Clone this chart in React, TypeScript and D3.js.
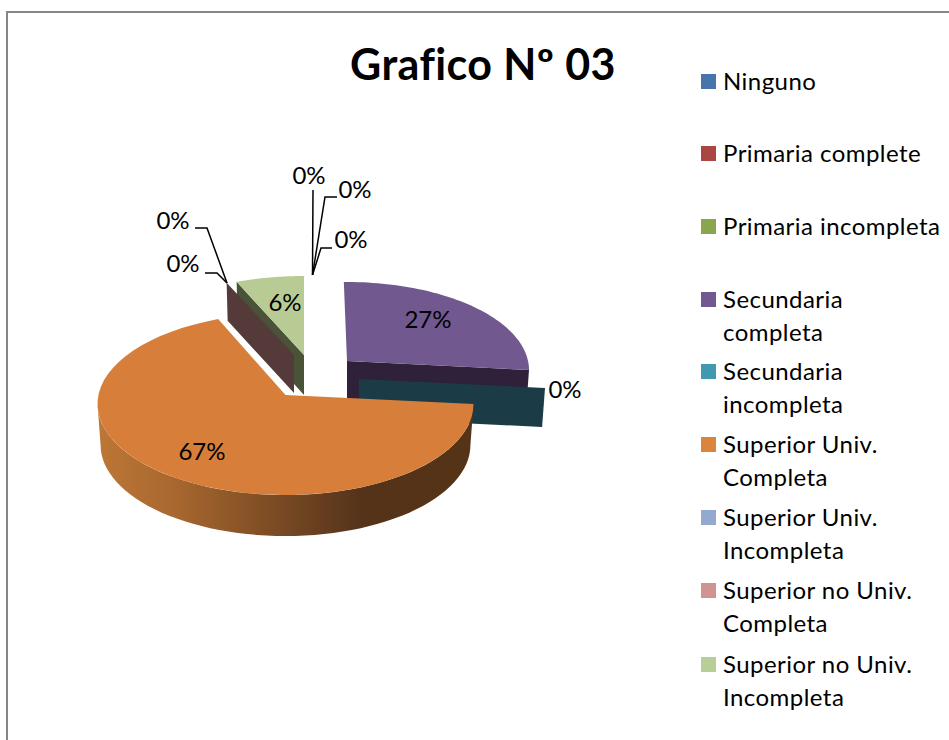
import React from "react";
import * as d3 from "d3";

const categories = ["Ninguno","Primaria complete","Primaria incompleta","Secundaria completa","Secundaria incompleta","Superior Univ. Completa","Superior Univ. Incompleta","Superior no Univ. Completa","Superior no Univ. Incompleta"];
const values = [0,0,0,27,0,67,0,0,6];
const legendLines = [["Ninguno"],["Primaria complete"],["Primaria incompleta"],["Secundaria","completa"],["Secundaria","incompleta"],["Superior Univ.","Completa"],["Superior Univ.","Incompleta"],["Superior no Univ.","Completa"],["Superior no Univ.","Incompleta"]];
const legendColors = ["#4674ab","#aa4643","#89a54e","#71588f","#4198af","#db843d","#93a9cf","#d19392","#b9cd96"];
const title = "Grafico Nº 03";

// layout (not data)
const legendSwatchY = [74,146,219,292,364,437,510,583,657];
const FONT = "Lato, Carlito, Calibri, sans-serif";
const labelPos: [number,number][] = [[309,184],[355,198],[351,248],[428,328],[565,398],[202,460],[183,272],[173,229],[285,311]];
const leaders: [number,number][][] = [
  [[313,190],[312.5,275]],
  [[337,197],[325,197],[312.5,275]],
  [[332,248],[321,248],[312.5,275]],
  [[205,273],[217,273],[227,283]],
  [[195,228],[207,228],[227,283]],
];
type Geo = {cx:number;cy:number;rx:number;ry:number;depth:number};
const geo: Record<string,Geo> = {
  "Secundaria completa": {cx:347,cy:370,rx:182,ry:88,depth:38},
  "Secundaria incompleta": {cx:359,cy:388,rx:186,ry:88,depth:39},
  "Superior Univ. Completa": {cx:285.5,cy:404,rx:188,ry:91,depth:41},
  "Superior no Univ. Completa": {cx:294,cy:364,rx:188,ry:87,depth:38},
  "Superior no Univ. Incompleta": {cx:304,cy:364,rx:188,ry:88,depth:40},
};

const APEX_LIFT = 9;
const PERSPECTIVE = 0.0004;
const toDeg = 180/Math.PI;
// perspective warp of pie angle to the drawn ellipse parameter
const warp = d3.scaleLinear().domain([0,97.2,338.4,360]).range([-1,90,339,360]);
const pt = (g:Geo,deg:number,dz=0):[number,number] => {
  const a = warp(deg)*Math.PI/180;
  const k = 1-PERSPECTIVE*dz;
  return [g.cx+g.rx*k*Math.sin(a), g.cy-g.ry*Math.cos(a)+dz];
};
const apex = (g:Geo,dz=0):[number,number] => [g.cx,g.cy-APEX_LIFT+dz];
const line = d3.line<[number,number]>();

const pie = d3.pie<number>().sort(null)(values);
const slices = categories.map((name,i)=>({name,start:pie[i].startAngle*toDeg,end:pie[i].endAngle*toDeg,color:legendColors[i]}));
const byName = (n:string)=>slices.find(s=>s.name===n)!;

function arcPts(g:Geo,s:number,e:number,dz=0){
  return d3.range(0,61).map(i=>pt(g,s+(e-s)*i/60,dz));
}
function topFace(g:Geo,s:number,e:number){ return line([apex(g),...arcPts(g,s,e)])+"Z"; }
function cutFace(g:Geo,d:number){
  return line([apex(g),pt(g,d),pt(g,d,g.depth),apex(g,g.depth)])+"Z";
}

export default function App(){
  const sGreen=byName("Superior no Univ. Incompleta"), gGreen=geo[sGreen.name];
  const sBrown=byName("Superior no Univ. Completa"), gBrown=geo[sBrown.name];
  const sPurple=byName("Secundaria completa"), gPurple=geo[sPurple.name];
  const sTeal=byName("Secundaria incompleta"), gTeal=geo[sTeal.name];
  const sOrange=byName("Superior Univ. Completa"), gOrange=geo[sOrange.name];
  // orange front wall: from right extreme round to left extreme (pie angle from warp inverse)
  const wallStart = warp.invert(90), wallEnd = warp.invert(270);
  const wallTop = arcPts(gOrange,wallStart,wallEnd);
  const wallBottom = arcPts(gOrange,wallStart,wallEnd,gOrange.depth).reverse();
  const wall = line([...wallTop,...wallBottom])+"Z";
  return (
    <svg width={949} height={740} style={{position:"absolute",left:0,top:0,background:"#fff"}} fontFamily={FONT}>
      <defs>
        <linearGradient id="wall" gradientUnits="userSpaceOnUse" x1={97} x2={473} y1={0} y2={0}>
          <stop offset="0" stopColor="#bd7736"/>
          <stop offset="0.2" stopColor="#a9682f"/>
          <stop offset="0.7" stopColor="#55331a"/>
          <stop offset="1" stopColor="#553317"/>
        </linearGradient>
      </defs>
      <path d="M7 740V12H949" fill="none" stroke="#868686" strokeWidth={2}/>
      <text x={483} y={80} textAnchor="middle" fontSize={43} fontWeight={700} letterSpacing={0.4} fill="#000">{title}</text>

      {/* green slice */}
      <path d={cutFace(gGreen,sGreen.start)} fill="#4a5238"/>
      <path d={topFace(gGreen,sGreen.start,sGreen.end)} fill="#b9cb94"/>
      {/* zero slice */}
      <path d={cutFace(gBrown,sBrown.start)} fill="#553a3a"/>
      {/* purple */}
      <path d={cutFace(gPurple,sPurple.end)} fill="#2e2139"/>
      <path d={topFace(gPurple,sPurple.start,sPurple.end)} fill="#71588f"/>
      {/* teal zero slice */}
      <path d={cutFace(gTeal,sTeal.start)} fill="#1b3c47"/>
      {/* orange */}
      <path d={wall} fill="url(#wall)"/>
      <path d={topFace(gOrange,sOrange.start,sOrange.end)} fill="#d77f3a"/>

      {leaders.map((l,i)=><path key={i} d={line(l)!} fill="none" stroke="#000" strokeWidth={1.5}/>)}
      {categories.map((c,i)=>(
        <text key={c} x={labelPos[i][0]} y={labelPos[i][1]} textAnchor="middle" fontSize={24} fill="#000">{values[i]}%</text>
      ))}
      {categories.map((c,i)=>(
        <g key={c}>
          <rect x={701} y={legendSwatchY[i]} width={15} height={15} fill={legendColors[i]}/>
          {legendLines[i].map((t,j)=>(
            <text key={j} x={723} y={legendSwatchY[i]+16+j*32.7} fontSize={24} letterSpacing={0.45} fill="#000">{t}</text>
          ))}
        </g>
      ))}
    </svg>
  );
}
